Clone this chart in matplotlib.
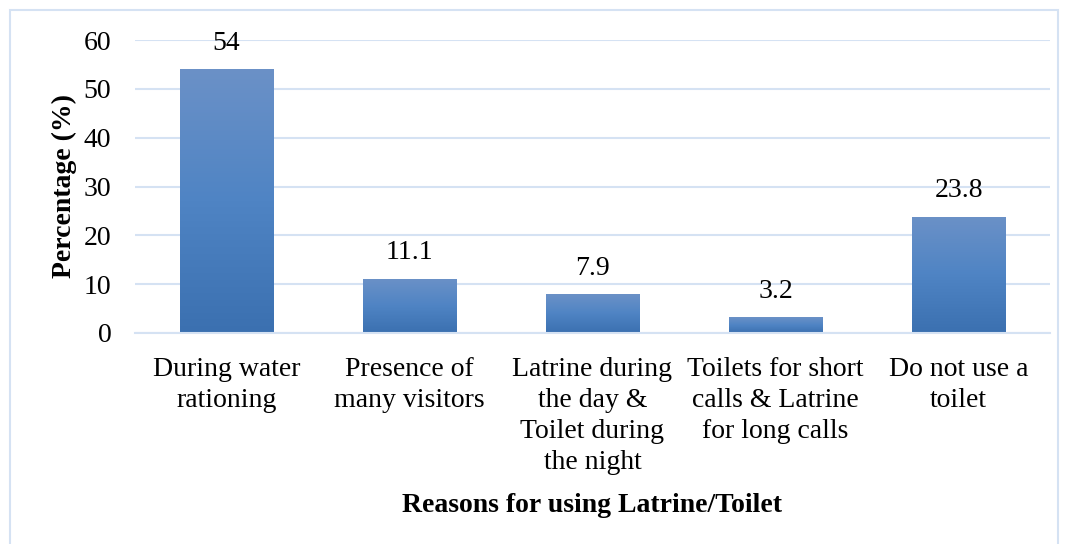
import numpy as np
import matplotlib.pyplot as plt
from matplotlib.colors import LinearSegmentedColormap
from matplotlib.patches import Rectangle

categories = ["During water\nrationing", "Presence of\nmany visitors",
              "Latrine during\nthe day &\nToilet during\nthe night",
              "Toilets for short\ncalls & Latrine\nfor long calls",
              "Do not use a\ntoilet"]
values = [54, 11.1, 7.9, 3.2, 23.8]
value_labels = ["54", "11.1", "7.9", "3.2", "23.8"]

plt.rcParams['font.family'] = ['Liberation Serif', 'DejaVu Serif']
FS = 20

fig = plt.figure(figsize=(10.71, 5.44), dpi=100)
ax = fig.add_axes([135/1071, 1 - 333/544, 915/1071, 293/544])

# light blue frame round the whole chart
fig.patches.append(Rectangle((10/1071, -0.02), 1048/1071, 1 - 10/544 + 0.02,
                             transform=fig.transFigure, fill=False,
                             edgecolor='#d5e2f3', linewidth=1.5))

grad = LinearSegmentedColormap.from_list('g', ['#3b70b0', '#4f84c4', '#6b91c7'])
x = np.arange(len(categories))
bars = ax.bar(x, values, width=0.51, color='none', zorder=2)
for b in bars:
    x0, y0 = b.get_x(), b.get_y()
    w, h = b.get_width(), b.get_height()
    im = ax.imshow(np.linspace(0, 1, 256).reshape(-1, 1), cmap=grad, origin='lower',
                   extent=[x0, x0 + w, y0, y0 + h], aspect='auto', zorder=2)
    im.set_clip_path(b)

for xi, v, lab in zip(x, values, value_labels):
    ax.text(xi, v + 2.8, lab, ha='center', va='bottom', fontsize=FS)

ax.set_xlim(-0.5, len(categories) - 0.5)
ax.set_ylim(0, 60)
ax.set_yticks(range(0, 61, 10))
ax.grid(axis='y', color='#d5e2f3', linewidth=1.5, zorder=0)
ax.set_axisbelow(True)
for s in ['top', 'right', 'left']:
    ax.spines[s].set_visible(False)
ax.spines['bottom'].set_color('#d5e2f3')
ax.spines['bottom'].set_linewidth(1.5)
ax.tick_params(length=0, labelsize=FS)
ax.tick_params(axis='y', pad=17)
ax.tick_params(axis='x', pad=17)
ax.set_xticks(x)
ax.set_xticklabels(categories, linespacing=1.33)

ax.set_ylabel('Percentage (%)', fontsize=FS, fontweight='bold', labelpad=5)
ax.set_xlabel('Reasons for using Latrine/Toilet', fontsize=FS, fontweight='bold', labelpad=13)

fig.savefig('out.png', dpi=100)
